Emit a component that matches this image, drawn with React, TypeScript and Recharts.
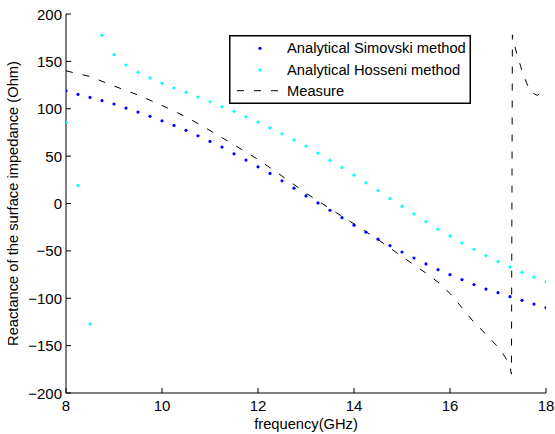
import React from "react";
import { ComposedChart, Line, Scatter, XAxis, YAxis, Legend } from "recharts";

// frequency grid of the two analytical models (GHz)
const freqs = [
  8, 8.25, 8.5, 8.75, 9, 9.25, 9.5, 9.75, 10, 10.25, 10.5, 10.75, 11, 11.25, 11.5, 11.75,
  12, 12.25, 12.5, 12.75, 13, 13.25, 13.5, 13.75, 14, 14.25, 14.5, 14.75, 15, 15.25, 15.5,
  15.75, 16, 16.25, 16.5, 16.75, 17, 17.25, 17.5, 17.75, 18,
];

const simovski = [
  119.0, 115.2, 112.0, 108.5, 105.0, 100.7, 96.5, 92.0, 87.3, 82.4, 77.2, 71.5, 65.5, 59.5,
  52.4, 45.8, 38.7, 31.7, 23.9, 16.2, 8.0, 0.6, -7.1, -15.0, -22.9, -30.3, -37.7, -44.4,
  -51.2, -57.5, -63.8, -69.8, -75.1, -80.3, -85.6, -90.3, -94.1, -98.3, -102.2, -106.1, -109.9,
];

const hosseni = [
  85.6, 19.0, -127.3, 177.6, 157.1, 146.2, 138.5, 132.5, 126.8, 121.9, 117.3, 112.4, 107.4,
  102.1, 97.3, 91.5, 85.9, 79.9, 73.6, 66.9, 60.6, 53.2, 45.5, 38.1, 29.9, 21.8, 13.7, 5.3,
  -2.9, -11.0, -19.0, -27.2, -34.2, -41.6, -48.3, -55.0, -61.3, -67.0, -72.6, -77.6, -82.5,
];

// measured curve
const measureFreqs = [
  8, 8.5, 9, 9.5, 10, 10.5, 11, 11.5, 12, 12.5, 13, 13.5, 14, 14.5, 15, 15.5, 15.75, 16,
  16.25, 16.5, 16.75, 17, 17.15, 17.25, 17.28, 17.3, 17.37, 17.42, 17.53, 17.67, 17.82, 17.96, 18,
];
const measureValues = [
  140, 134, 124, 114.5, 103.5, 91.5, 77, 62, 46.5, 29, 11, -5.5, -21.5, -38, -56, -73.5, -83,
  -95, -110, -125.5, -138, -151.5, -162, -172, -180, 178, 162, 153, 135.6, 118, 114, 119.5, 121,
];

const xTicks = [8, 10, 12, 14, 16, 18];
const yTicks = [-200, -150, -100, -50, 0, 50, 100, 150, 200];

const NAME_S = "Analytical Simovski method";
const NAME_H = "Analytical Hosseni method";
const NAME_M = "Measure";
const legendOrder = [NAME_S, NAME_H, NAME_M];

const simovskiData = freqs.map((x, i) => ({ x, y: simovski[i] }));
const hosseniData = freqs.map((x, i) => ({ x, y: hosseni[i] }));
const measureData = measureFreqs.map((x, i) => ({ x, y: measureValues[i] }));

const FONT = '"Liberation Sans", Arial, Helvetica, sans-serif';
const TICK_LEN = 5;
const DASH = "7 10";

const fmt = (v: number) => (v < 0 ? `\u2212${Math.abs(v)}` : `${v}`);

function YTick(props: any) {
  const { x, y, payload } = props;
  const axisX = x + 4; // tickSize 0, tickMargin 4
  return (
    <g>
      <line x1={axisX} x2={axisX + TICK_LEN} y1={y} y2={y} stroke="#000" />
      <text x={x} y={y} textAnchor="end" dominantBaseline="central" fontSize={15} fontFamily={FONT} fill="#000">
        {fmt(payload.value)}
      </text>
    </g>
  );
}

function XTick(props: any) {
  const { x, y, payload } = props;
  const axisY = y - 12; // tickSize 0, tickMargin 12
  return (
    <g>
      <line x1={x} x2={x} y1={axisY} y2={axisY - TICK_LEN} stroke="#000" />
      <text x={x} y={y} textAnchor="middle" dominantBaseline="central" fontSize={15} fontFamily={FONT} fill="#000">
        {fmt(payload.value)}
      </text>
    </g>
  );
}

function YLabel(props: any) {
  const vb = props.viewBox;
  const cx = vb.x + 12.5;
  const cy = vb.y + vb.height / 2;
  return (
    <text x={cx} y={cy} transform={`rotate(-90 ${cx} ${cy})`} textAnchor="middle" dominantBaseline="central" fontSize={14.7} fontFamily={FONT} fill="#000">
      Reactance of the surface impedance (Ohm)
    </text>
  );
}

function XLabel(props: any) {
  const vb = props.viewBox;
  return (
    <text x={vb.x + vb.width / 2} y={vb.y + 30.5} textAnchor="middle" dominantBaseline="central" fontSize={14.7} fontFamily={FONT} fill="#000">
      frequency(GHz)
    </text>
  );
}

function MatlabLegend(props: any) {
  const items = [...(props.payload || [])].sort(
    (a: any, b: any) => legendOrder.indexOf(a.value) - legendOrder.indexOf(b.value)
  );
  const rows = [13.3, 35, 55.7];
  return (
    <svg width={242} height={69} style={{ display: "block" }}>
      <rect x={0.75} y={0.75} width={240.5} height={67.5} fill="#fff" stroke="#000" strokeWidth={1.5} />
      {items.map((e: any, i: number) => (
        <g key={e.value}>
          {e.value === NAME_M ? (
            <line x1={8} x2={53} y1={rows[i]} y2={rows[i]} stroke="#000" strokeDasharray={DASH} />
          ) : (
            <circle cx={31} cy={rows[i]} r={1.6} fill={e.color} />
          )}
          <text x={58} y={rows[i]} dominantBaseline="central" fontSize={14.7} fontFamily={FONT} fill="#000">
            {e.value}
          </text>
        </g>
      ))}
    </svg>
  );
}

const dot = (color: string) => (p: any) => <circle cx={p.cx} cy={p.cy} r={1.6} fill={color} />;

export default function App() {
  return (
    <div style={{ position: "absolute", left: 0, top: 0, width: 555, height: 434, background: "#fff" }}>
      <ComposedChart width={555} height={434} margin={{ top: 14, right: 9, bottom: 0, left: 0 }}>
        <XAxis
          type="number"
          dataKey="x"
          domain={[8, 18]}
          ticks={xTicks}
          height={41}
          tickSize={0}
          tickMargin={12}
          tickLine={false}
          tick={<XTick />}
          axisLine={{ stroke: "#000" }}
          label={<XLabel />}
          allowDataOverflow
        />
        <YAxis
          type="number"
          domain={[-200, 200]}
          ticks={yTicks}
          width={66}
          tickSize={0}
          tickMargin={4}
          tickLine={false}
          tick={<YTick />}
          axisLine={{ stroke: "#000" }}
          label={<YLabel />}
          allowDataOverflow
        />
        <Line
          data={measureData}
          dataKey="y"
          name={NAME_M}
          type="linear"
          stroke="#000"
          strokeWidth={1}
          strokeDasharray={DASH}
          dot={false}
          activeDot={false}
          isAnimationActive={false}
        />
        <Scatter data={simovskiData} dataKey="y" name={NAME_S} fill="#0000ff" shape={dot("#0000ff")} isAnimationActive={false} />
        <Scatter data={hosseniData} dataKey="y" name={NAME_H} fill="#00ffff" shape={dot("#00ffff")} isAnimationActive={false} />
        <Legend
          layout="vertical"
          align="center"
          verticalAlign="middle"
          content={<MatlabLegend />}
          wrapperStyle={{ position: "absolute", left: 229, top: 35, width: 242, height: 69 }}
        />
      </ComposedChart>
    </div>
  );
}
